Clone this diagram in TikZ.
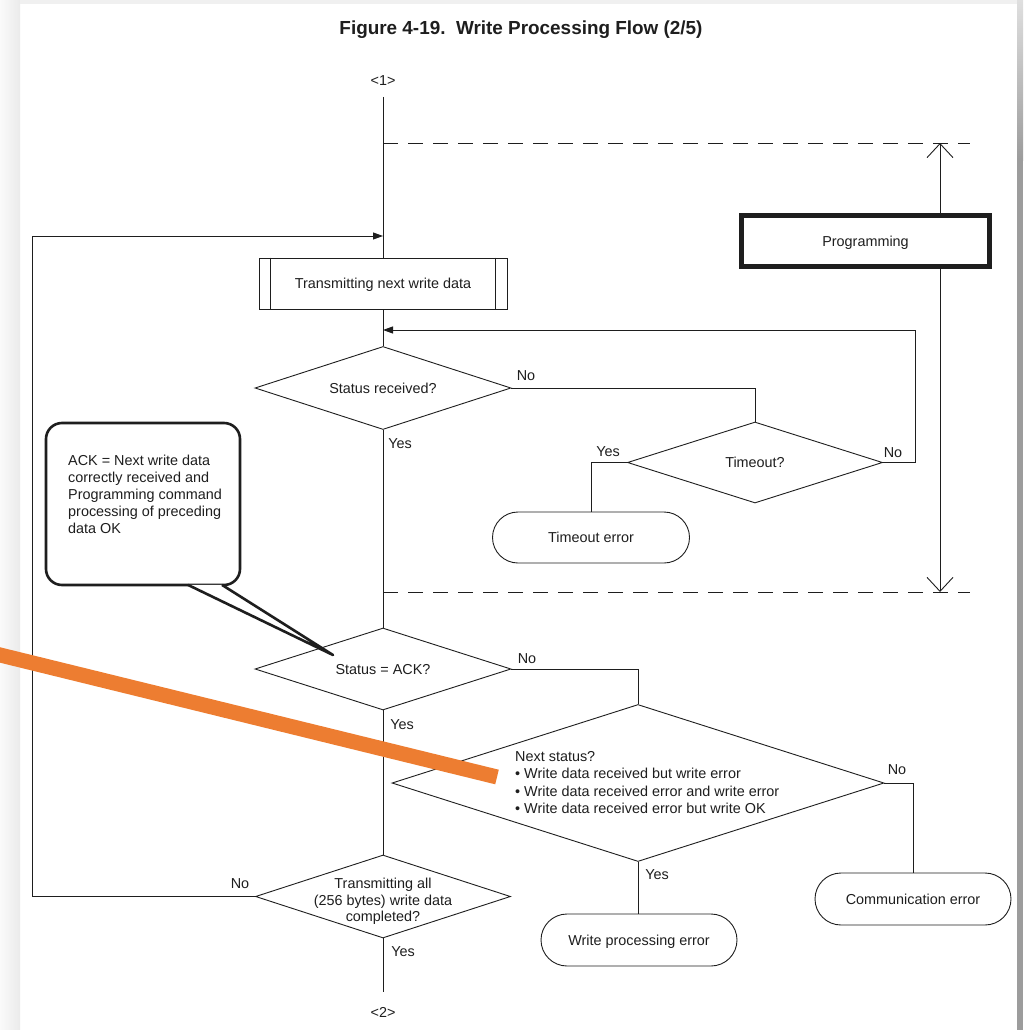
\documentclass[tikz,border=0pt]{standalone}
\usepackage{fontspec}
\setmainfont{Liberation Sans}
\usetikzlibrary{shapes.geometric,shapes.misc,arrows.meta,calc}
\definecolor{accent}{RGB}{237,125,49}
\definecolor{ink}{RGB}{30,30,30}

\begin{document}
\begin{tikzpicture}[x=1pt, y=-1pt,
  every node/.style={font=\fontsize{14.4}{17.2}\selectfont, inner sep=0pt, text=ink},
  lbl/.style={text height=10.5pt, text depth=0pt},
  flow/.style={line width=0.9pt, draw=ink},
  tip/.style={-{Triangle[length=10pt,width=7pt]}},
  decision/.style={diamond, draw=ink, line width=0.9pt, fill=white, shape aspect=3, align=center, lbl},
  procbox/.style={rectangle, draw=ink, line width=0.9pt, fill=white, lbl},
  terminal/.style={rounded rectangle, draw=ink, line width=0.9pt, fill=white, lbl},
  progbox/.style={rectangle, draw=ink, line width=5pt, fill=white, lbl},
  notebox/.style={rectangle, draw=ink, line width=2.6pt, rounded corners=16pt, fill=white},
  dashline/.style={line width=0.9pt, draw=ink, dash pattern=on 15pt off 10pt},
  rangearrow/.style={line width=0.9pt, draw=ink, {Straight Barb[length=14pt,width=26pt]}-{Straight Barb[length=14pt,width=26pt]}},
  marker/.style={line width=15pt, draw=accent}
]
\useasboundingbox (0,0) rectangle (1023,1030);

% page and its grey surround
\fill[white] (0,0) rectangle (1023,1030);
\shade[left color=gray!4, right color=gray!16] (0,0) rectangle (20,1030);
\fill[gray!12] (20,0) rectangle (1017,4);
\shade[top color=gray!25, bottom color=gray!78] (1017,0) rectangle (1023,160);
\fill[gray!78] (1017,160) rectangle (1023,1030);

% title
\node[font=\bfseries\fontsize{18.9}{22}\selectfont] (title) at (521,30) {Figure 4-19.\ \ Write Processing Flow (2/5)};

% programming range
\coordinate (dt1) at (383,143);
\coordinate (dt2) at (970,143);
\coordinate (db1) at (383,592);
\coordinate (db2) at (970,592);
\draw[dashline] (dt1) -- (dt2);
\draw[dashline] (db1) -- (db2);
\coordinate (rt) at (940,143);
\coordinate (rb) at (940,592);
\draw[rangearrow] (rt) -- (rb);
\node[progbox, minimum width=248pt, minimum height=51pt] (prog) at (865.5,241) {Programming};

% flow nodes
\node[lbl] (in1) at (383,80) {<1>};
\coordinate (start) at (383,97);
\node[procbox, minimum width=248pt, minimum height=51pt] (tx) at (383,283.5) {Transmitting next write data};
\draw[line width=0.9pt, draw=ink] ([xshift=12pt]tx.north west) -- ([xshift=12pt]tx.south west);
\draw[line width=0.9pt, draw=ink] ([xshift=-12pt]tx.north east) -- ([xshift=-12pt]tx.south east);

\node[decision, minimum width=256pt, minimum height=83pt] (sr) at (383,388) {Status received?};
\node[decision, minimum width=255pt, minimum height=81pt] (to) at (755,462.5) {Timeout?};
\node[terminal, minimum width=197pt, minimum height=51pt] (toerr) at (591,537.5) {Timeout error};

\node[decision, minimum width=256pt, minimum height=82pt] (ack) at (383,669) {Status = ACK?};
\node[decision, minimum width=492pt, minimum height=157pt] (ns) at (638,783) {};
\node[anchor=west, align=left] (nstext) at (515,782.5) {Next status?\\%
• Write data received but write error\\%
• Write data received error and write error\\%
• Write data received error but write OK};

\node[decision, minimum width=255pt, minimum height=83pt] (ta) at (383,896.5) {};
\node[align=center, font=\fontsize{14.4}{16.6}\selectfont] (tatext) at (383,901.5) {Transmitting all\\(256 bytes) write data\\completed?};

\node[terminal, minimum width=196pt, minimum height=52pt] (wperr) at (639,940) {Write processing error};
\node[terminal, minimum width=196pt, minimum height=52pt] (cerr) at (913,899) {Communication error};

\coordinate (end) at (383,992);
\node[lbl] (out2) at (383,1012.5) {<2>};

% connectors
\coordinate (join1) at (383,236);
\coordinate (lc) at (32,236);
\coordinate (join2) at (383,330);
\draw[flow] (start) -- (tx);
\draw[flow] (tx) -- (sr);
\draw[flow] (sr.east) -| (to.north);
\draw[flow] (to.west) -| (toerr.north);
\draw[flow, tip] (to.east) -- ++(32,0) |- (join2);
\draw[flow] (sr) -- (ack);
\draw[flow] (ack.east) -| (ns.north);
\draw[flow] (ns.east) -| (cerr.north);
\draw[flow] (ns.south) -- (ns.south |- wperr.north);
\draw[flow] (ack) -- (ta);
\draw[flow, tip] (ta.west) -| (lc) -- (join1);
\draw[flow] (ta) -- (end);

% branch labels
\node[lbl] (srno) at (526,375) {No};
\node[lbl] (sryes) at (400,443) {Yes};
\node[lbl] (toyes) at (608,451) {Yes};
\node[lbl] (tono) at (893,452) {No};
\node[lbl] (ackno) at (527,658) {No};
\node[lbl] (ackyes) at (402,724) {Yes};
\node[lbl] (nsno) at (897,769) {No};
\node[lbl] (nsyes) at (657,874) {Yes};
\node[lbl] (tano) at (240,883) {No};
\node[lbl] (tayes) at (403,951) {Yes};

% note on the ACK decision
\node[notebox, minimum width=194pt, minimum height=162pt] (note) at (143,504) {};
\coordinate (ptip) at (333,655);
\draw[line width=2.6pt, draw=ink, fill=white, line join=round] ([xshift=45pt,yshift=1.4pt]note.south) -- (ptip) -- ([xshift=79pt,yshift=1.4pt]note.south);
\node[anchor=north west, align=left] (notetext) at (68,454.5) {ACK = Next write data\\correctly received and\\Programming command\\processing of preceding\\data OK};

% orange marker stroke
\coordinate (m1) at (-10,652.5);
\coordinate (m2) at (497,777);
\draw[marker] (m1) -- (m2);
\end{tikzpicture}
\end{document}
